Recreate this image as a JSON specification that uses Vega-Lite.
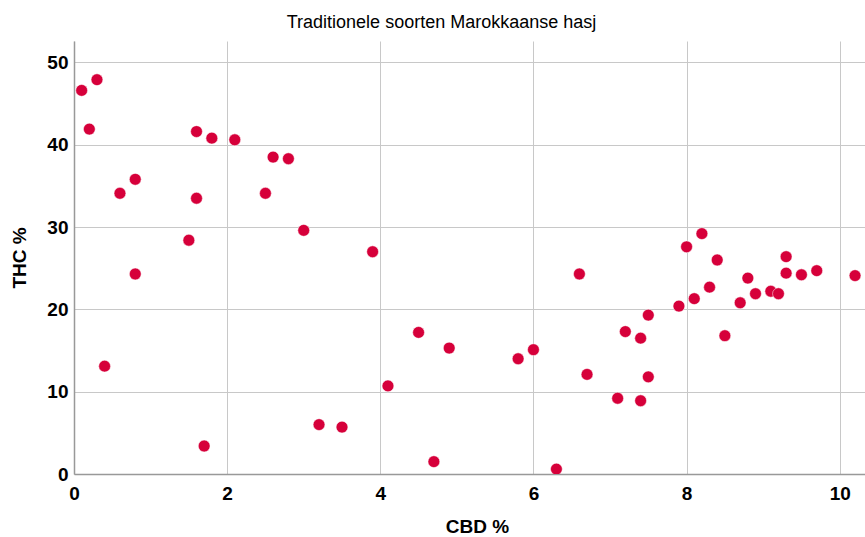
{
  "$schema": "https://vega.github.io/schema/vega-lite/v6.json",
  "width": 791,
  "height": 433,
  "autosize": {"type": "none"},
  "padding": {"left": 74, "top": 41, "right": 0, "bottom": 63},
  "background": "white",
  "config": {
    "view": {"stroke": null},
    "font": "Liberation Sans"
  },
  "title": {
    "text": "Traditionele soorten Marokkaanse hasj",
    "font": "Liberation Sans",
    "fontSize": 18,
    "fontWeight": "normal",
    "color": "#000000",
    "anchor": "middle",
    "frame": "group",
    "dx": -28,
    "offset": 9
  },
  "data": {
    "values": [
      {"cbd": 0.10, "thc": 46.6},
      {"cbd": 0.30, "thc": 47.9},
      {"cbd": 0.20, "thc": 41.9},
      {"cbd": 1.60, "thc": 41.6},
      {"cbd": 1.80, "thc": 40.8},
      {"cbd": 2.10, "thc": 40.6},
      {"cbd": 2.60, "thc": 38.5},
      {"cbd": 2.80, "thc": 38.3},
      {"cbd": 0.60, "thc": 34.1},
      {"cbd": 0.80, "thc": 35.8},
      {"cbd": 1.60, "thc": 33.5},
      {"cbd": 2.50, "thc": 34.1},
      {"cbd": 3.00, "thc": 29.6},
      {"cbd": 1.50, "thc": 28.4},
      {"cbd": 3.90, "thc": 27.0},
      {"cbd": 0.80, "thc": 24.3},
      {"cbd": 0.40, "thc": 13.1},
      {"cbd": 1.70, "thc": 3.4},
      {"cbd": 3.20, "thc": 6.0},
      {"cbd": 3.50, "thc": 5.7},
      {"cbd": 4.10, "thc": 10.7},
      {"cbd": 4.50, "thc": 17.2},
      {"cbd": 4.70, "thc": 1.5},
      {"cbd": 4.90, "thc": 15.3},
      {"cbd": 5.80, "thc": 14.0},
      {"cbd": 6.00, "thc": 15.1},
      {"cbd": 6.60, "thc": 24.3},
      {"cbd": 6.70, "thc": 12.1},
      {"cbd": 6.30, "thc": 0.6},
      {"cbd": 7.10, "thc": 9.2},
      {"cbd": 7.40, "thc": 8.9},
      {"cbd": 7.20, "thc": 17.3},
      {"cbd": 7.40, "thc": 16.5},
      {"cbd": 7.50, "thc": 11.8},
      {"cbd": 7.50, "thc": 19.3},
      {"cbd": 7.90, "thc": 20.4},
      {"cbd": 8.10, "thc": 21.3},
      {"cbd": 8.30, "thc": 22.7},
      {"cbd": 8.50, "thc": 16.8},
      {"cbd": 8.70, "thc": 20.8},
      {"cbd": 8.80, "thc": 23.8},
      {"cbd": 8.90, "thc": 21.9},
      {"cbd": 9.10, "thc": 22.2},
      {"cbd": 9.20, "thc": 21.9},
      {"cbd": 9.30, "thc": 24.4},
      {"cbd": 9.50, "thc": 24.2},
      {"cbd": 9.70, "thc": 24.7},
      {"cbd": 10.20, "thc": 24.1},
      {"cbd": 8.00, "thc": 27.6},
      {"cbd": 8.20, "thc": 29.2},
      {"cbd": 8.40, "thc": 26.0},
      {"cbd": 9.30, "thc": 26.4}
    ]
  },
  "mark": {"type": "point", "filled": true, "shape": "circle", "size": 140, "color": "#d6003a", "opacity": 1, "stroke": "white", "strokeWidth": 0.5, "clip": true},
  "encoding": {
    "x": {
      "field": "cbd",
      "type": "quantitative",
      "title": "CBD %",
      "scale": {"domain": [0, 10.33], "nice": false, "zero": false},
      "axis": {
        "values": [0, 2, 4, 6, 8, 10],
        "format": "d",
        "grid": true,
        "gridColor": "#c8c8c8",
        "gridWidth": 1,
        "domainColor": "#999999",
        "domainWidth": 1.5,
        "ticks": false,
        "labelFont": "Liberation Sans",
        "labelFontSize": 19,
        "labelFontWeight": "bold",
        "labelColor": "#000000",
        "labelPadding": 10,
        "labelFlush": false,
        "titleFont": "Liberation Sans",
        "titleFontSize": 19,
        "titleFontWeight": "bold",
        "titleColor": "#000000",
        "titlePadding": 14,
        "titleX": 403
      }
    },
    "y": {
      "field": "thc",
      "type": "quantitative",
      "title": "THC %",
      "scale": {"domain": [0, 52.6], "nice": false, "zero": false},
      "axis": {
        "values": [0, 10, 20, 30, 40, 50],
        "grid": true,
        "gridColor": "#c8c8c8",
        "gridWidth": 1,
        "domainColor": "#999999",
        "domainWidth": 1.5,
        "ticks": false,
        "labelFont": "Liberation Sans",
        "labelFontSize": 19,
        "labelFontWeight": "bold",
        "labelColor": "#000000",
        "labelPadding": 6,
        "labelFlush": false,
        "titleFont": "Liberation Sans",
        "titleFontSize": 19,
        "titleFontWeight": "bold",
        "titleColor": "#000000",
        "titlePadding": 17
      }
    }
  }
}
